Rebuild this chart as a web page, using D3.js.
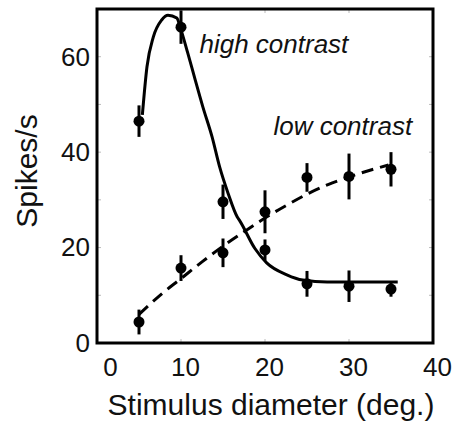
<!DOCTYPE html>
<html>
<head>
<meta charset="utf-8">
<script src="https://cdn.jsdelivr.net/npm/d3@7"></script>
<style>
  html, body { margin: 0; padding: 0; background: #fff; }
  svg { display: block; }
  text { font-family: "Liberation Sans", Arial, Helvetica, sans-serif; fill: #111; }
</style>
</head>
<body>
<svg id="chart" width="457" height="425"></svg>
<script>
// ---- data ----
const diameters = [5, 10, 15, 20, 25, 30, 35];
const highMean = [46.5, 66.2, 29.6, 19.5, 12.4, 11.9, 11.3];
const highErr  = [3.3, 3.5, 3.6, 2.2, 2.7, 3.3, 1.6];
const lowMean  = [4.4, 15.7, 18.9, 27.5, 34.7, 34.9, 36.4];
const lowErr   = [2.6, 2.7, 3.0, 4.5, 3.0, 4.8, 3.6];

// fitted curves
const highFitX = [5.4, 5.95, 6.7, 7.7, 8.45, 9.5, 9.9, 10.8, 11.7, 12.6, 13.7, 14.6, 15.6, 16.7, 17.0, 18.8, 20.2, 22.6, 24.5, 27.4, 35.8];
const highFitY = [47.8, 57.9, 64.1, 67.7, 68.7, 68.1, 66.2, 60.8, 55.1, 49.5, 43.2, 36.9, 31.4, 26.4, 25.6, 19.8, 16.8, 14.3, 13.2, 12.8, 12.8];
const lowFitX = [5.0, 7.5, 10, 12.5, 15, 17.5, 20, 22.5, 25, 27.5, 30, 32.5, 34.7];
const lowFitY = [6.0, 10.0, 13.5, 17.0, 20.3, 23.3, 26.2, 28.8, 31.2, 33.2, 34.8, 36.2, 37.3];

const xTicks = [0, 10, 20, 30, 40];
const yTicks = [0, 20, 40, 60];
const minorTicksX = [10, 20, 30];
const minorTicksY = [10, 20, 30, 40, 50, 60];

const xTitle = "Stimulus diameter (deg.)";
const yTitle = "Spikes/s";
const highLabel = "high contrast";
const lowLabel = "low contrast";

// ---- layout ----
const svg = d3.select("#chart");
const L = 97, R = 433, T = 9, B = 343;
const x = d3.scaleLinear().domain([0, 40]).range([L, R]);
const y = d3.scaleLinear().domain([0, 70]).range([B, T]);

// inner minor ticks (grey)
const minor = svg.append("g").attr("stroke", "#bbb").attr("stroke-width", 1);
minorTicksX.forEach(v => {
  minor.append("line").attr("x1", x(v)).attr("x2", x(v)).attr("y1", B).attr("y2", B - 4);
  minor.append("line").attr("x1", x(v)).attr("x2", x(v)).attr("y1", T).attr("y2", T + 4);
});
minorTicksY.forEach(v => {
  minor.append("line").attr("x1", L).attr("x2", L + 4).attr("y1", y(v)).attr("y2", y(v));
  minor.append("line").attr("x1", R).attr("x2", R - 4).attr("y1", y(v)).attr("y2", y(v));
});

// axes (labels only)
const xAxis = svg.append("g")
  .attr("transform", `translate(0,${B})`)
  .call(d3.axisBottom(x).tickValues(xTicks).tickSize(0).tickPadding(15).tickFormat(d3.format("d")));
xAxis.select(".domain").remove();
xAxis.selectAll("text")
  .style("font-size", "26px")
  .attr("dx", d => d === 0 ? 13 : 4);

const yAxis = svg.append("g")
  .attr("transform", `translate(${L},0)`)
  .call(d3.axisLeft(y).tickValues(yTicks).tickSize(0).tickPadding(7).tickFormat(d3.format("d")));
yAxis.select(".domain").remove();
yAxis.selectAll("text").style("font-size", "26px");

// frame
svg.append("rect")
  .attr("x", L).attr("y", T).attr("width", R - L).attr("height", B - T)
  .attr("fill", "none").attr("stroke", "#000").attr("stroke-width", 3);

// fitted curves
const line = d3.line().x(d => x(d[0])).y(d => y(d[1])).curve(d3.curveMonotoneX);
svg.append("path")
  .datum(highFitX.map((v, i) => [v, highFitY[i]]))
  .attr("d", line)
  .attr("fill", "none").attr("stroke", "#000").attr("stroke-width", 3);
svg.append("path")
  .datum(lowFitX.map((v, i) => [v, lowFitY[i]]))
  .attr("d", line)
  .attr("fill", "none").attr("stroke", "#000").attr("stroke-width", 3)
  .attr("stroke-dasharray", "12,7");

// error bars and points
function drawSeries(means, errs) {
  const g = svg.append("g");
  g.selectAll("line").data(diameters).join("line")
    .attr("x1", d => x(d)).attr("x2", d => x(d))
    .attr("y1", (d, i) => y(means[i] + errs[i]))
    .attr("y2", (d, i) => y(means[i] - errs[i]))
    .attr("stroke", "#000").attr("stroke-width", 3);
  g.selectAll("circle").data(diameters).join("circle")
    .attr("cx", d => x(d)).attr("cy", (d, i) => y(means[i]))
    .attr("r", 5.5).attr("fill", "#000");
}
drawSeries(highMean, highErr);
drawSeries(lowMean, lowErr);

// curve labels
svg.append("text")
  .attr("x", x(12.2)).attr("y", y(60.8))
  .style("font-size", "26px").style("font-style", "italic")
  .text(highLabel);
svg.append("text")
  .attr("x", x(21)).attr("y", y(43.6))
  .style("font-size", "26px").style("font-style", "italic")
  .text(lowLabel);

// axis titles
svg.append("text")
  .attr("x", 271).attr("y", 415)
  .attr("text-anchor", "middle")
  .style("font-size", "30px")
  .text(xTitle);
svg.append("text")
  .attr("transform", "translate(37,171) rotate(-90)")
  .attr("text-anchor", "middle")
  .style("font-size", "30px")
  .text(yTitle);
</script>
</body>
</html>
